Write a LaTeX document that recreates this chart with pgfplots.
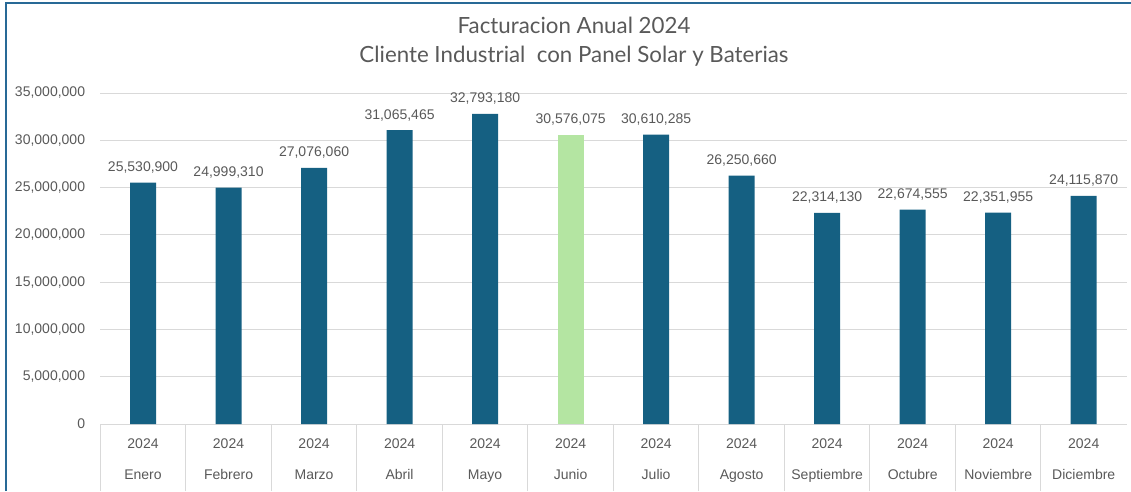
\documentclass[border=0pt]{standalone}
\usepackage{pgfplots}
\pgfplotsset{compat=1.18}
\usepackage{pgfplotstable}
\usepackage{fontspec}
\setmainfont{Liberation Sans}
\newfontfamily\titlefont{Lato}
\definecolor{barblue}{RGB}{21,96,130}
\definecolor{bargreen}{RGB}{180,229,162}
\definecolor{txtgray}{RGB}{89,89,89}
\definecolor{gridgray}{RGB}{217,217,217}
\definecolor{frameblue}{RGB}{40,105,150}

\pgfplotstableread{
x y label
0 25530900 25,530,900
1 24999310 24,999,310
2 27076060 27,076,060
3 31065465 31,065,465
4 32793180 32,793,180
6 30610285 30,610,285
7 26250660 26,250,660
8 22314130 22,314,130
9 22674555 22,674,555
10 22351955 22,351,955
11 24115870 24,115,870
}\bluedata
\pgfplotstableread{
x y label
5 30576075 30,576,075
}\greendata

\begin{document}
\begin{tikzpicture}[x=1pt,y=1pt]
\path[use as bounding box] (0,0) rectangle (1131,491);
\draw[frameblue,line width=2pt] (6,0) -- (6,488) -- (1131,488);
\node[text=txtgray,font=\titlefont\fontsize{22.3}{26}\selectfont] at (574,466) {Facturacion Anual 2024};
\node[text=txtgray,font=\titlefont\fontsize{22.3}{26}\selectfont] at (574,435) {Cliente Industrial\ \ con Panel Solar y Baterias};
\begin{axis}[
  at={(100.25pt,67pt)}, anchor=south west,
  scale only axis, width=1026.25pt, height=331pt,
  xmin=-0.5, xmax=11.5, ymin=0, ymax=35000000,
  axis line style={draw=none},
  ymajorgrids, grid style={gridgray, line width=1pt},
  ytick={0,5000000,...,35000000},
  scaled y ticks=false,
  yticklabel style={/pgf/number format/fixed, /pgf/number format/precision=0, /pgf/number format/1000 sep={,}, /pgf/number format/assume math mode=true,
    font=\fontsize{14}{17}\selectfont, text=txtgray, inner sep=0pt, anchor=east, xshift=-15pt},
  ytick style={draw=none},
  xtick={0,...,11},
  xtick pos=lower,
  major tick length=0pt,
  xticklabels={2024\\Enero,2024\\Febrero,2024\\Marzo,2024\\Abril,2024\\Mayo,2024\\Junio,2024\\Julio,2024\\Agosto,2024\\Septiembre,2024\\Octubre,2024\\Noviembre,2024\\Diciembre},
  xticklabel style={font=\fontsize{14}{31}\selectfont, text=txtgray, align=center, anchor=north, inner sep=0pt, yshift=-15pt},
  xtick style={draw=gridgray, line width=1pt},
  extra x ticks={-0.5,0.5,...,10.5},
  extra x tick labels={},
  extra x tick style={grid=none, major tick length=67pt, tick align=outside, xtick pos=lower},
  clip=false,
  nodes near coords,
  point meta=explicit symbolic,
  nodes near coords style={font=\fontsize{14}{17}\selectfont, text=txtgray, anchor=base, inner sep=0pt, yshift=11pt},
]
\draw[gridgray, line width=1pt] (axis cs:-0.5,0) -- (axis cs:11.5,0);
\addplot[ybar, bar width=26pt, bar shift=0pt, fill=barblue, draw=none] table[x=x,y=y,meta=label] {\bluedata};
\addplot[ybar, bar width=26pt, bar shift=0pt, fill=bargreen, draw=none] table[x=x,y=y,meta=label] {\greendata};
\end{axis}
\end{tikzpicture}
\end{document}
